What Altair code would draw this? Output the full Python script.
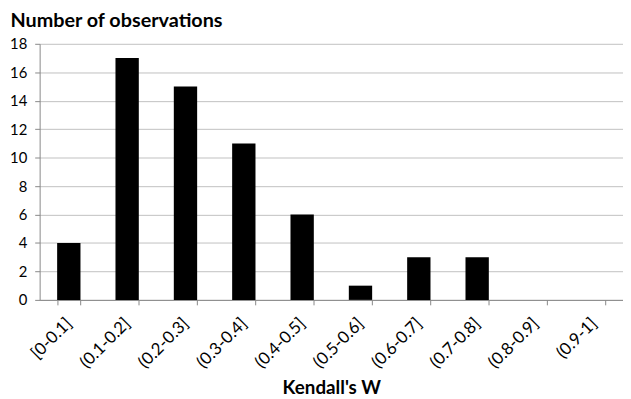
import altair as alt
import pandas as pd

categories = ["[0-0.1]", "(0.1-0.2]", "(0.2-0.3]", "(0.3-0.4]", "(0.4-0.5]",
              "(0.5-0.6]", "(0.6-0.7]", "(0.7-0.8]", "(0.8-0.9]", "(0.9-1]"]
counts = [4, 17, 15, 11, 6, 1, 3, 3, 0, 0]
y_ticks = list(range(0, 19, 2))

df = pd.DataFrame({"cat": categories, "n": counts})

FONT = "Lato"

chart = alt.Chart(df).mark_bar(color="black").encode(
    x=alt.X("cat:N", sort=categories,
            scale=alt.Scale(paddingInner=0.6, paddingOuter=0.3),
            axis=alt.Axis(title="Kendall's W", labelAngle=-45, labelAlign="right",
                          labelBaseline="middle", labelFontSize=17, labelColor="black",
                          labelPadding=16, titleFontSize=19, titleFontWeight="bold",
                          titleColor="black", titleBaseline="alphabetic", titleY=95,
                          tickBand="extent",
                          tickSize=5, tickColor="#888888", domainColor="#888888",
                          grid=False, labelFont=FONT, titleFont=FONT)),
    y=alt.Y("n:Q", scale=alt.Scale(domain=[0, 18], nice=False),
            axis=alt.Axis(values=y_ticks, title="Number of observations",
                          titleAngle=0, titleAlign="left", titleBaseline="middle",
                          titleX=-30, titleY=-23, titleFontSize=20,
                          titleFontWeight="bold", titleColor="black",
                          labelFontSize=15, labelColor="black", labelPadding=8,
                          tickSize=5, tickColor="#888888", domainColor="#888888",
                          gridColor="#c0c0c0", labelFont=FONT, titleFont=FONT)),
).properties(
    width=590, height=259,
    autosize=alt.AutoSizeParams(type="none"),
    padding={"left": 32, "top": 34, "right": 0, "bottom": 96},
).configure_view(stroke=None)

chart.save("out.html", embed_options={"renderer": "svg", "actions": False})
